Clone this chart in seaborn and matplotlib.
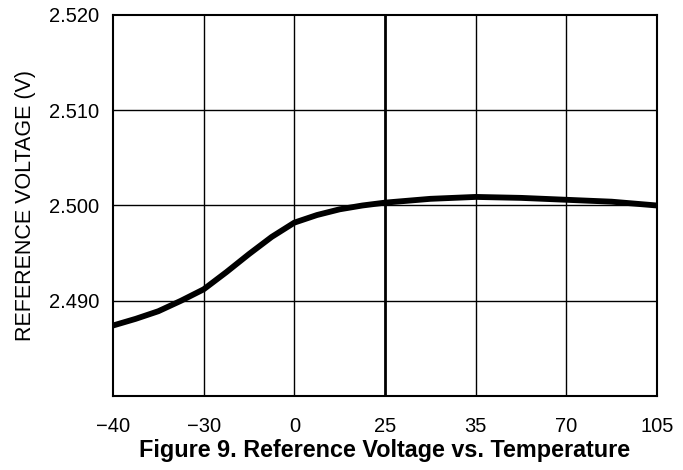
import matplotlib
matplotlib.use("Agg")
import matplotlib.pyplot as plt
import seaborn as sns
import pandas as pd

# Tick labels (temperature, °C) placed at evenly spaced positions
temp_labels = ["\u221240", "\u221230", "0", "25", "35", "70", "105"]
# Curve sampled at positions along the evenly spaced temperature axis
pos = [0, 0.25, 0.5, 0.75, 1, 1.25, 1.5, 1.75, 2, 2.25, 2.5, 2.75, 3,
       3.5, 4, 4.5, 5, 5.5, 6]
vref = [2.4874, 2.4881, 2.4889, 2.4900, 2.4912, 2.4930, 2.4949, 2.4967,
        2.4982, 2.4990, 2.4996, 2.5000, 2.5003,
        2.5007, 2.5009, 2.5008, 2.5006, 2.5004, 2.5000]
y_ticks = [2.480, 2.490, 2.500, 2.510, 2.520]
y_labels = ["", "2.490", "2.500", "2.510", "2.520"]

sns.set_theme(style="white")
plt.rcParams['font.family'] = ['Liberation Sans', 'DejaVu Sans']

fig = plt.figure(figsize=(6.83, 4.70), dpi=100)
ax = fig.add_axes([113/683, 1-396/470, (657-113)/683, (396-15)/470])

df = pd.DataFrame({"pos": pos, "vref": vref})

ax.set_xlim(0, 6)
ax.set_ylim(2.480, 2.520)
ax.set_xticks(range(len(temp_labels)))
ax.set_xticklabels(temp_labels, fontsize=14.5, color="black")
ax.set_yticks(y_ticks)
ax.set_yticklabels(y_labels, fontsize=14.5, color="black")
ax.tick_params(axis="x", length=0, pad=15)
ax.tick_params(axis="y", length=0, pad=10)

for i in range(1, len(temp_labels) - 1):
    ax.axvline(i, color="black", lw=2.0 if temp_labels[i] == "25" else 1.0, zorder=1)
for yv in y_ticks[1:-1]:
    ax.axhline(yv, color="black", lw=1.0, zorder=1)

sns.lineplot(data=df, x="pos", y="vref", color="black", lw=4.2, ax=ax,
             zorder=3, solid_capstyle="butt")

for s in ax.spines.values():
    s.set_color("black")
    s.set_linewidth(1.5)

ax.set_xlabel("Figure 9. Reference Voltage vs. Temperature", fontsize=16.8,
              fontweight="bold", color="black", labelpad=2)
ax.set_ylabel("REFERENCE VOLTAGE (V)", fontsize=15.5, color="black", labelpad=9)

fig.savefig("out.png", dpi=100)
